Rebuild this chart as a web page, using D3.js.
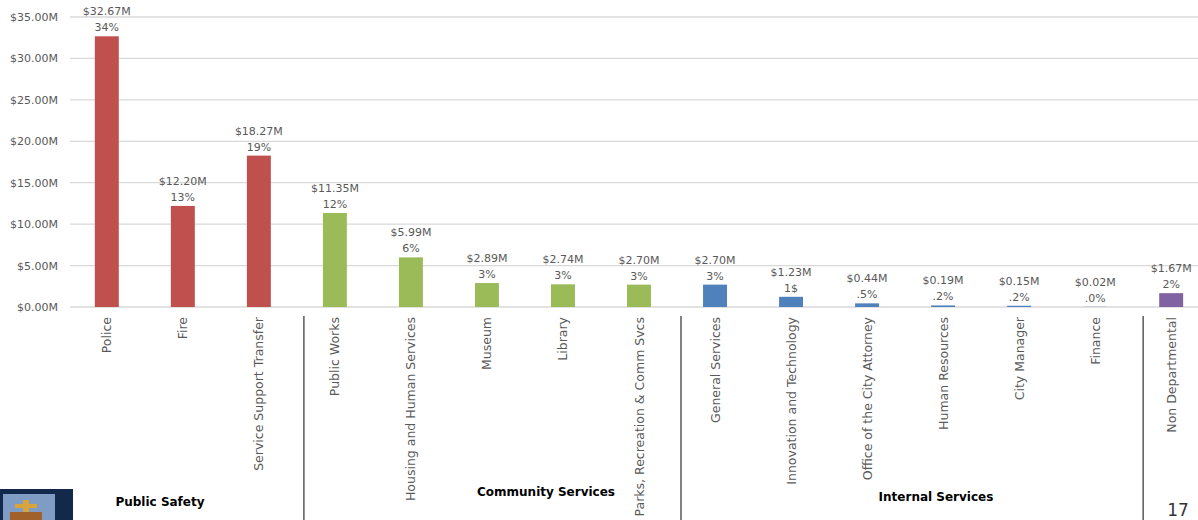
<!DOCTYPE html>
<html><head><meta charset="utf-8">
<script src="https://cdn.jsdelivr.net/npm/d3@7"></script>
<style>
html,body{margin:0;padding:0;background:#fff;}
svg{display:block;}
text{font-family:"DejaVu Sans","Noto Sans",sans-serif;}
</style></head>
<body>
<svg id="c" width="1198" height="520"></svg>
<script>
const categories = ["Police","Fire","Service Support Transfer","Public Works","Housing and Human Services","Museum","Library","Parks, Recreation & Comm Svcs","General Services","Innovation and Technology","Office of the City Attorney","Human Resources","City Manager","Finance","Non Departmental"];
const values = [32.67,12.20,18.27,11.35,5.99,2.89,2.74,2.70,2.70,1.23,0.44,0.19,0.15,0.02,1.67];
const valueLabels = ["$32.67M","$12.20M","$18.27M","$11.35M","$5.99M","$2.89M","$2.74M","$2.70M","$2.70M","$1.23M","$0.44M","$0.19M","$0.15M","$0.02M","$1.67M"];
const pctLabels = ["34%","13%","19%","12%","6%","3%","3%","3%","3%","1$",".5%",".2%",".2%",".0%","2%"];
const groups = ["Public Safety","Public Safety","Public Safety","Community Services","Community Services","Community Services","Community Services","Community Services","Internal Services","Internal Services","Internal Services","Internal Services","Internal Services","Internal Services","Non Departmental"];
const groupNames = ["Public Safety","Community Services","Internal Services","Non Departmental"];
const groupColors = ["#c0504d","#9bbb59","#4f81bd","#8064a2"];
const yTicks = [0,5,10,15,20,25,30,35];

const svg = d3.select("#c");
const x = d3.scaleBand().domain(categories).range([69, 1209]).paddingInner(0.685).paddingOuter(0.34);
const y = d3.scaleLinear().domain([0,35]).range([307,17]);
const color = d3.scaleOrdinal().domain(groupNames).range(groupColors);

// gridlines
svg.append("g").selectAll("line").data(yTicks).join("line")
  .attr("x1",70).attr("x2",1198)
  .attr("y1",d=>y(d)).attr("y2",d=>y(d))
  .attr("stroke","#d9d9d9").attr("stroke-width",1.3);

// y axis labels
const yAxis = d3.axisLeft(y).tickValues(yTicks).tickSize(0).tickPadding(0)
  .tickFormat(d=>"$"+d.toFixed(2)+"M");
const ga = svg.append("g").attr("transform","translate(58,0)").call(yAxis);
ga.select(".domain").remove();
ga.selectAll("text").attr("fill","#595959").style("font-size","11px").style("font-family","DejaVu Sans");

// bars
svg.append("g").selectAll("rect").data(categories).join("rect")
  .attr("x",(d)=>x(d)).attr("width",x.bandwidth())
  .attr("y",(d,i)=>y(values[i])).attr("height",(d,i)=>y(0)-y(values[i]))
  .attr("fill",(d,i)=>color(groups[i]));

// data labels
const lbl = svg.append("g").style("font-size","11px").attr("fill","#595959").attr("text-anchor","middle");
categories.forEach((c,i)=>{
  const cx = x(c)+x.bandwidth()/2;
  const top = y(values[i]);
  lbl.append("text").attr("x",cx).attr("y",top-21).text(valueLabels[i]);
  lbl.append("text").attr("x",cx).attr("y",top-5).text(pctLabels[i]);
});

// category labels
const xl = svg.append("g");
categories.forEach((c,i)=>{
  const cx = x(c)+x.bandwidth()/2;
  xl.append("text").attr("transform",`translate(${cx+4.5},317) rotate(-90)`)
    .attr("text-anchor","end").attr("fill","#595959").style("font-size","12.5px").text(c);
});

// group separators
const step = x.step();
const sepAfter = [2,7,13];
const sepOffset = [7,4,10];
sepAfter.forEach((idx,k)=>{
  const sx = x(categories[idx]) + x.bandwidth()/2 + step/2 + sepOffset[k];
  svg.append("line").attr("x1",sx).attr("x2",sx).attr("y1",316).attr("y2",520)
    .attr("stroke","#595959").attr("stroke-width",1.5);
});

// group titles
const gTitles = [{t:"Public Safety",cx:160,y:506},{t:"Community Services",cx:546,y:496},{t:"Internal Services",cx:936,y:501}];
gTitles.forEach(g=>{
  svg.append("text").attr("x",g.cx).attr("y",g.y).attr("text-anchor","middle")
    .style("font-size","12px").style("font-weight","bold").attr("fill","#000").text(g.t);
});

// logo
svg.append("rect").attr("x",0).attr("y",489).attr("width",73).attr("height",31).attr("fill","#13294b");
svg.append("rect").attr("x",3).attr("y",494).attr("width",52).attr("height",26).attr("fill","#7f9cc4");
svg.append("rect").attr("x",23).attr("y",500).attr("width",6).attr("height",20).attr("fill","#d9a53a");
svg.append("rect").attr("x",15).attr("y",504).attr("width",22).attr("height",4).attr("fill","#d9a53a");
svg.append("rect").attr("x",10).attr("y",512).attr("width",32).attr("height",8).attr("fill","#a0622a");

// page number
svg.append("text").attr("x",1178).attr("y",516).attr("text-anchor","middle")
  .style("font-size","17px").attr("fill","#333").text("17");
</script>
</body></html>
